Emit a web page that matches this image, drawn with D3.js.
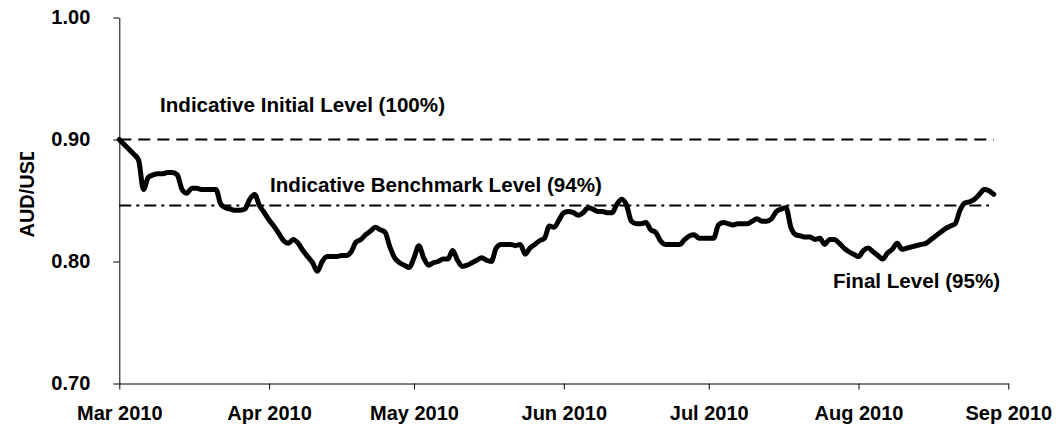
<!DOCTYPE html>
<html>
<head>
<meta charset="utf-8">
<script src="https://cdn.jsdelivr.net/npm/d3@7"></script>
<style>
  body { margin: 0; background: #fff; }
  svg text { font-family: "Liberation Sans", Arial, sans-serif; font-weight: bold; fill: #000; }
</style>
</head>
<body>
<script>
let width = 1062;
let height = 430;

// daily AUD/USD fixings, starting 1 Mar 2010
let startDate = new Date(2010, 2, 1);
let rates = [
  0.900, 0.896, 0.892, 0.888, 0.883, 0.859, 0.869, 0.871, 0.872, 0.872,
  0.873, 0.873, 0.871, 0.859, 0.856, 0.860, 0.860, 0.859, 0.859, 0.859,
  0.859, 0.847, 0.844, 0.843, 0.842, 0.842, 0.843, 0.851, 0.855, 0.846,
  0.840, 0.834, 0.829, 0.823, 0.817, 0.815, 0.818, 0.815, 0.809, 0.804,
  0.799, 0.792, 0.800, 0.804, 0.804, 0.804, 0.805, 0.805, 0.808, 0.816,
  0.818, 0.822, 0.825, 0.828, 0.826, 0.824, 0.812, 0.803, 0.799, 0.797,
  0.795, 0.803, 0.813, 0.803, 0.797, 0.799, 0.800, 0.802, 0.802, 0.809,
  0.801, 0.796, 0.797, 0.799, 0.801, 0.803, 0.801, 0.800, 0.811, 0.814,
  0.814, 0.814, 0.813, 0.814, 0.806, 0.811, 0.814, 0.817, 0.819, 0.829,
  0.828, 0.834, 0.840, 0.841, 0.840, 0.838, 0.840, 0.844, 0.843, 0.841,
  0.841, 0.840, 0.840, 0.847, 0.851, 0.846, 0.833, 0.831, 0.831, 0.832,
  0.826, 0.824, 0.817, 0.814, 0.814, 0.814, 0.814, 0.818, 0.821, 0.822,
  0.819, 0.819, 0.819, 0.819, 0.830, 0.832, 0.831, 0.830, 0.831, 0.831,
  0.831, 0.833, 0.835, 0.833, 0.833, 0.835, 0.841, 0.843, 0.844, 0.828,
  0.822, 0.821, 0.820, 0.820, 0.818, 0.819, 0.814, 0.818, 0.818, 0.815,
  0.811, 0.808, 0.806, 0.804, 0.809, 0.811, 0.808, 0.805, 0.802, 0.807,
  0.810, 0.815, 0.810, 0.811, 0.812, 0.813, 0.814, 0.815, 0.818, 0.821,
  0.824, 0.827, 0.829, 0.831, 0.842, 0.848, 0.849, 0.851, 0.855, 0.859,
  0.858, 0.855
];
let dates = rates.map((v, i) => d3.timeDay.offset(startDate, i));

let monthTicks = d3.timeMonth.range(new Date(2010, 2, 1), new Date(2010, 8, 2));
let rateTicks = [0.70, 0.80, 0.90, 1.00];

let initialLevel = 0.900;
let benchmarkLevel = 0.846;

let x = d3.scaleTime()
    .domain([new Date(2010, 2, 1), new Date(2010, 8, 1)])
    .range([119.3, 1008.3]);

let y = d3.scaleLinear()
    .domain([0.70, 1.00])
    .range([383.5, 17.5]);

let svg = d3.select('body')
    .append('svg')
    .attr('width', width)
    .attr('height', height);

// reference levels
svg.append('line')
    .attr('x1', x(startDate)).attr('x2', x(new Date(2010, 7, 29)))
    .attr('y1', y(initialLevel)).attr('y2', y(initialLevel))
    .attr('stroke', '#000').attr('stroke-width', 2)
    .attr('stroke-dasharray', '12,7');

svg.append('line')
    .attr('x1', x(startDate)).attr('x2', x(new Date(2010, 7, 28)))
    .attr('y1', y(benchmarkLevel)).attr('y2', y(benchmarkLevel))
    .attr('stroke', '#000').attr('stroke-width', 2)
    .attr('stroke-dasharray', '12,5,3,5');

// axes
svg.append('g')
    .attr('transform', `translate(0,${y(0.70)})`)
    .call(d3.axisBottom(x)
        .tickValues(monthTicks)
        .tickFormat(d3.timeFormat('%b %Y'))
        .tickSize(6)
        .tickSizeOuter(0)
        .tickPadding(16));

svg.append('g')
    .attr('transform', `translate(${x(startDate)},0)`)
    .call(d3.axisLeft(y)
        .tickValues(rateTicks)
        .tickFormat(d3.format('.2f'))
        .tickSize(6)
        .tickSizeOuter(0)
        .tickPadding(23));

svg.selectAll('.domain, .tick line')
    .attr('stroke', '#000')
    .attr('stroke-width', 1);
svg.selectAll('.tick text')
    .attr('font-size', 20)
    .attr('font-family', '"Liberation Sans", Arial, sans-serif')
    .attr('font-weight', 'bold');

// the rate series, smoothed like the spreadsheet original
let line = d3.line()
    .curve(d3.curveMonotoneX)
    .x((d, i) => x(dates[i]))
    .y(d => y(d));

svg.append('path')
    .datum(rates)
    .attr('d', line)
    .attr('fill', 'none')
    .attr('stroke', '#000')
    .attr('stroke-width', 5)
    .attr('stroke-linejoin', 'round')
    .attr('stroke-linecap', 'round');

// labels
let labels = [
  {text: 'Indicative Initial Level (100%)', x: 160, y: 112},
  {text: 'Indicative Benchmark Level (94%)', x: 270, y: 192},
  {text: 'Final Level (95%)', x: 833, y: 288}
];
svg.selectAll('.note')
    .data(labels)
  .enter().append('text')
    .attr('class', 'note')
    .attr('x', d => d.x)
    .attr('y', d => d.y)
    .attr('font-size', 20.6)
    .text(d => d.text);

// y title, clipped at the top like the original
svg.append('clipPath').attr('id', 'titleClip')
  .append('rect').attr('x', 0).attr('y', 152).attr('width', 60).attr('height', 200);

svg.append('g')
    .attr('clip-path', 'url(#titleClip)')
  .append('text')
    .attr('transform', 'translate(34,192) rotate(-90)')
    .attr('text-anchor', 'middle')
    .attr('font-size', 20)
    .text('AUD/USD');
</script>
</body>
</html>
